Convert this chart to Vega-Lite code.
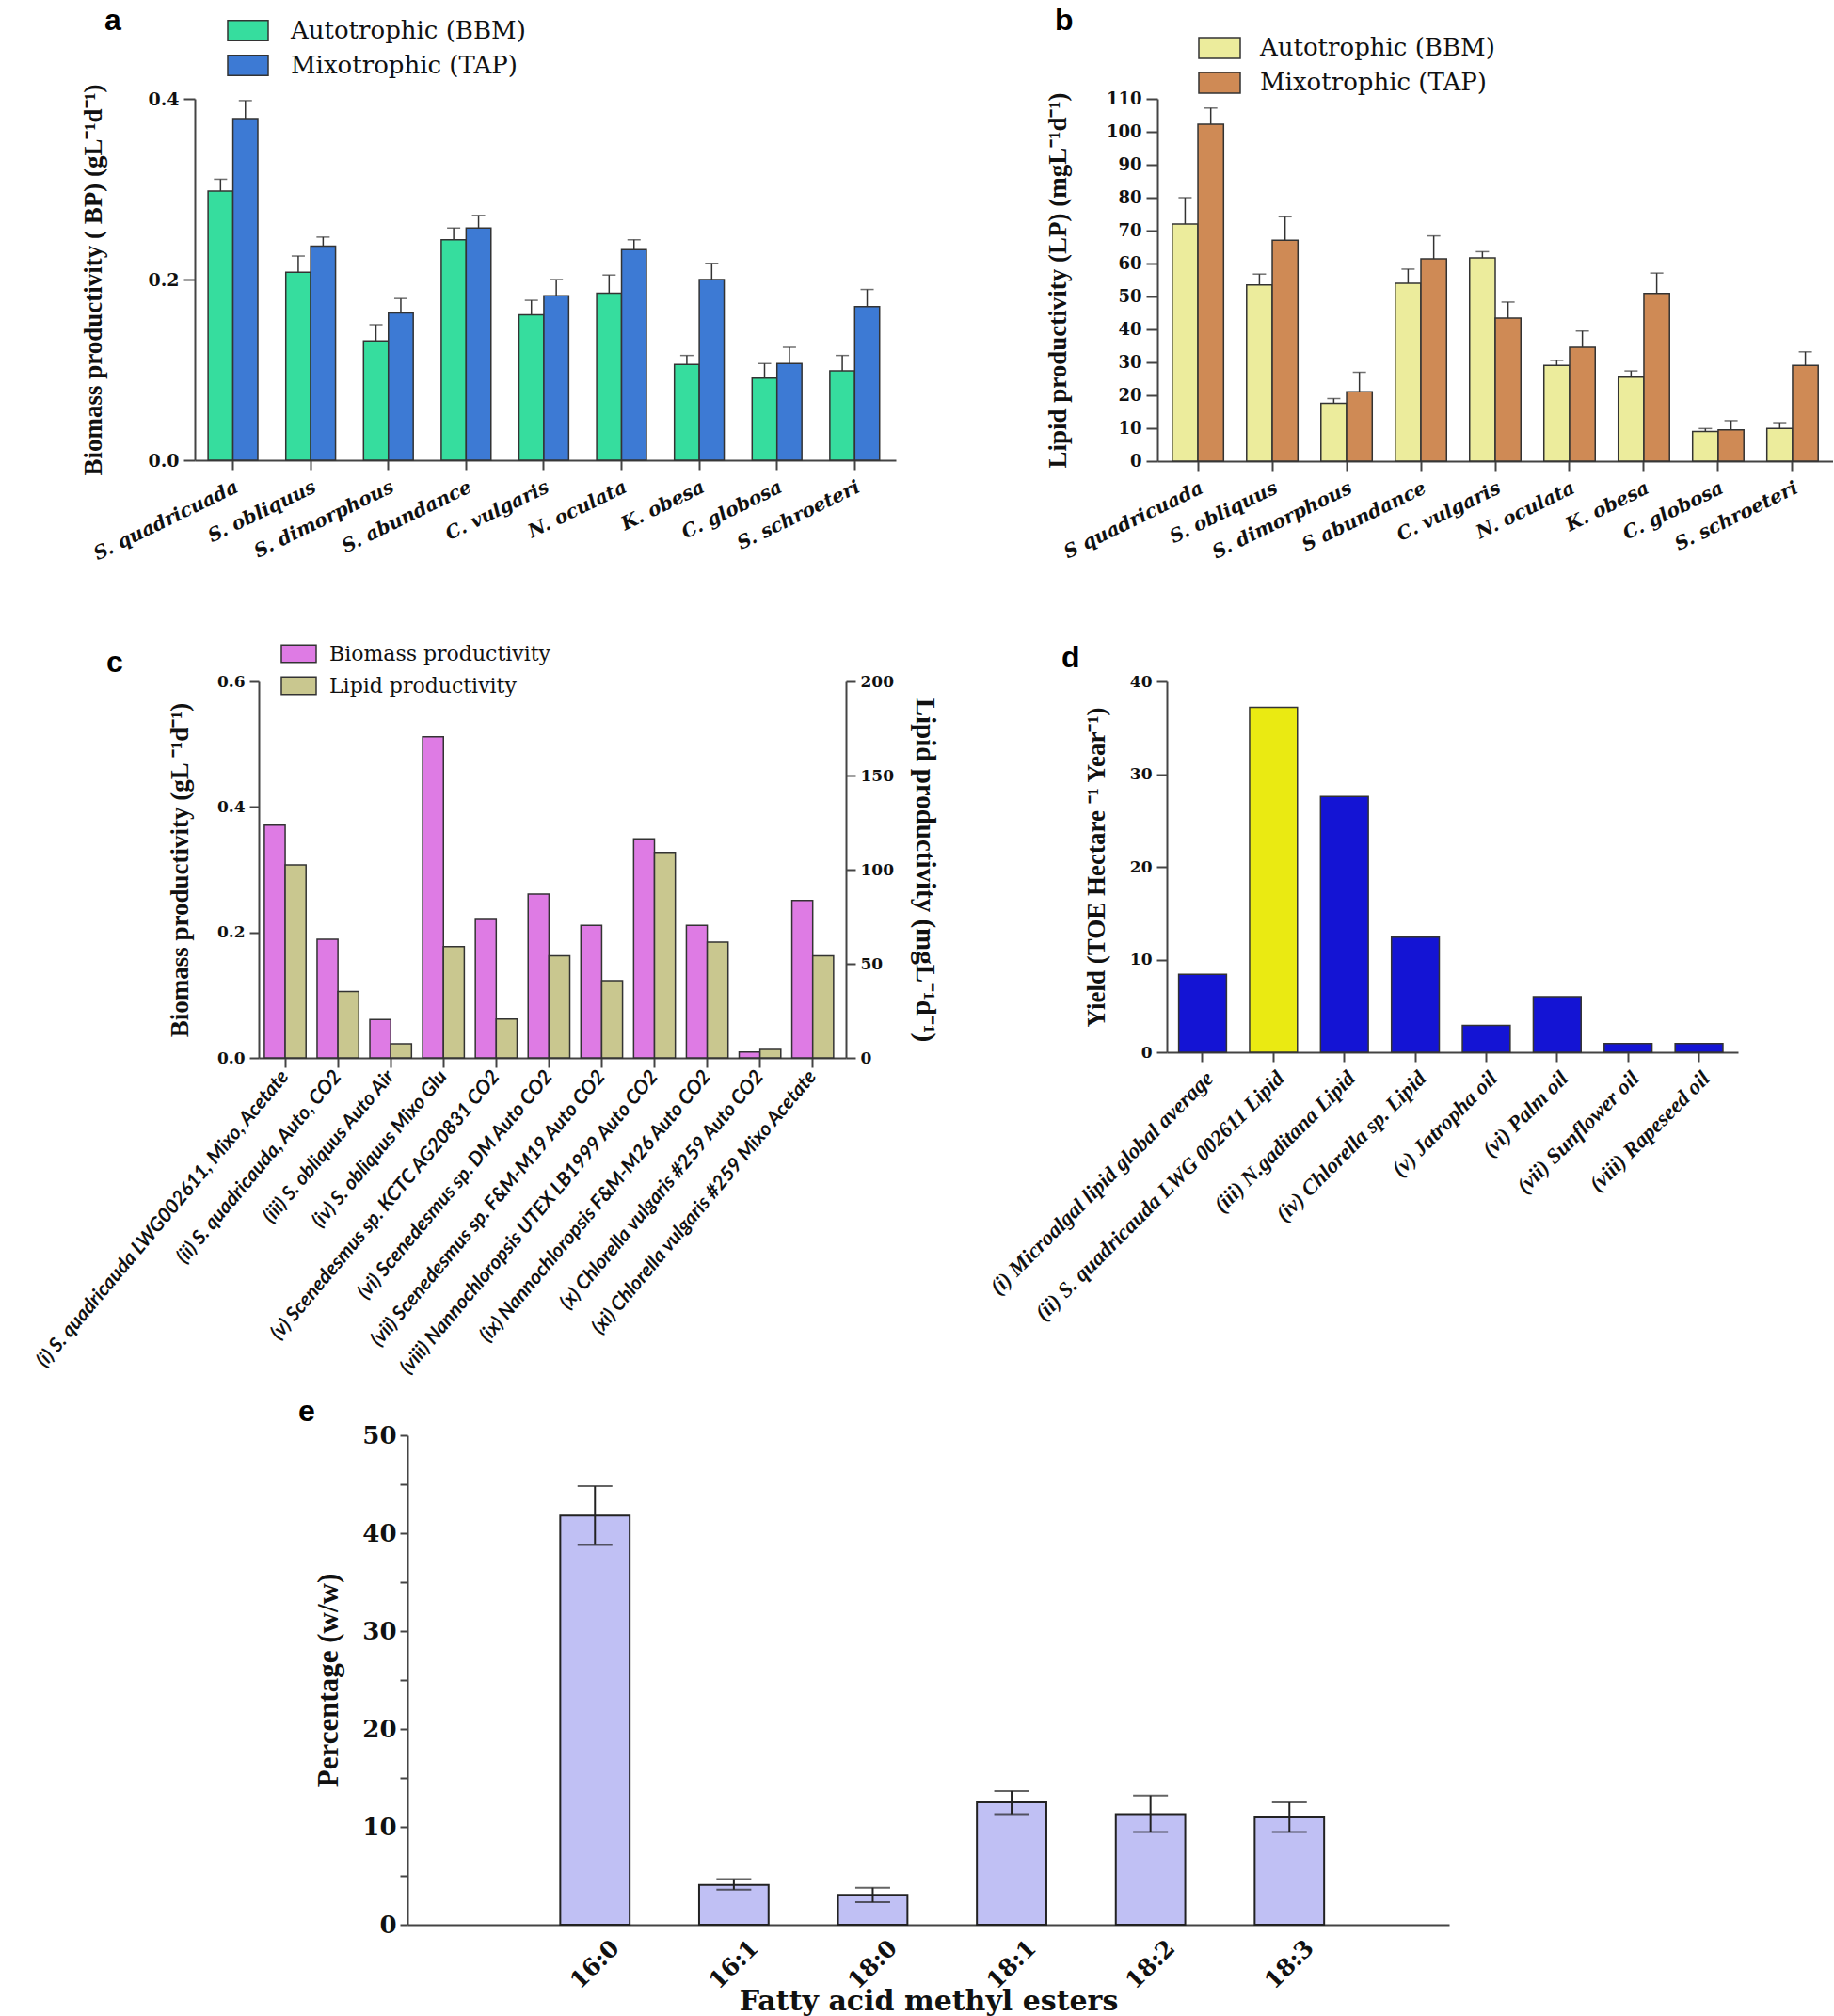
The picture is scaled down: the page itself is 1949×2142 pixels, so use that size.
{
  "$schema": "https://vega.github.io/schema/vega-lite/v6.json",
  "background": "white",
  "padding": {"left": 0, "top": 6, "right": 0, "bottom": 0},
  "config": {
    "view": {"stroke": null},
    "axis": {"domainColor": "#444", "domainWidth": 2, "tickColor": "#444", "tickWidth": 2, "tickSize": 10, "grid": false, "labelColor": "#111", "titleColor": "#111", "labelFont": "DejaVu Serif", "labelFontWeight": "bold", "titleFont": "Liberation Serif", "titleFontWeight": "bold", "labelOverlap": false, "labelPadding": 5}
  },
  "datasets": {
    "a": [
      {"strain": "S. quadricuada", "medium": "Autotrophic (BBM)", "value": 0.298, "upper": 0.311},
      {"strain": "S. quadricuada", "medium": "Mixotrophic (TAP)", "value": 0.378, "upper": 0.398},
      {"strain": "S. obliquus", "medium": "Autotrophic (BBM)", "value": 0.208, "upper": 0.226},
      {"strain": "S. obliquus", "medium": "Mixotrophic (TAP)", "value": 0.237, "upper": 0.247},
      {"strain": "S. dimorphous", "medium": "Autotrophic (BBM)", "value": 0.132, "upper": 0.150},
      {"strain": "S. dimorphous", "medium": "Mixotrophic (TAP)", "value": 0.163, "upper": 0.179},
      {"strain": "S. abundance", "medium": "Autotrophic (BBM)", "value": 0.244, "upper": 0.257},
      {"strain": "S. abundance", "medium": "Mixotrophic (TAP)", "value": 0.257, "upper": 0.271},
      {"strain": "C. vulgaris", "medium": "Autotrophic (BBM)", "value": 0.161, "upper": 0.177},
      {"strain": "C. vulgaris", "medium": "Mixotrophic (TAP)", "value": 0.182, "upper": 0.200},
      {"strain": "N. oculata", "medium": "Autotrophic (BBM)", "value": 0.185, "upper": 0.205},
      {"strain": "N. oculata", "medium": "Mixotrophic (TAP)", "value": 0.233, "upper": 0.244},
      {"strain": "K. obesa", "medium": "Autotrophic (BBM)", "value": 0.106, "upper": 0.116},
      {"strain": "K. obesa", "medium": "Mixotrophic (TAP)", "value": 0.200, "upper": 0.218},
      {"strain": "C. globosa", "medium": "Autotrophic (BBM)", "value": 0.091, "upper": 0.107},
      {"strain": "C. globosa", "medium": "Mixotrophic (TAP)", "value": 0.107, "upper": 0.125},
      {"strain": "S. schroeteri", "medium": "Autotrophic (BBM)", "value": 0.099, "upper": 0.116},
      {"strain": "S. schroeteri", "medium": "Mixotrophic (TAP)", "value": 0.170, "upper": 0.189}
    ],
    "b": [
      {"strain": "S quadricuada", "medium": "Autotrophic (BBM)", "value": 72.0, "upper": 80.0},
      {"strain": "S quadricuada", "medium": "Mixotrophic (TAP)", "value": 102.3, "upper": 107.2},
      {"strain": "S. obliquus", "medium": "Autotrophic (BBM)", "value": 53.5, "upper": 56.8},
      {"strain": "S. obliquus", "medium": "Mixotrophic (TAP)", "value": 67.1, "upper": 74.2},
      {"strain": "S. dimorphous", "medium": "Autotrophic (BBM)", "value": 17.6, "upper": 19.0},
      {"strain": "S. dimorphous", "medium": "Mixotrophic (TAP)", "value": 21.1, "upper": 27.0},
      {"strain": "S abundance", "medium": "Autotrophic (BBM)", "value": 54.0, "upper": 58.3},
      {"strain": "S abundance", "medium": "Mixotrophic (TAP)", "value": 61.4, "upper": 68.4},
      {"strain": "C. vulgaris", "medium": "Autotrophic (BBM)", "value": 61.7, "upper": 63.6},
      {"strain": "C. vulgaris", "medium": "Mixotrophic (TAP)", "value": 43.4, "upper": 48.3},
      {"strain": "N. oculata", "medium": "Autotrophic (BBM)", "value": 29.1, "upper": 30.6},
      {"strain": "N. oculata", "medium": "Mixotrophic (TAP)", "value": 34.6, "upper": 39.5},
      {"strain": "K. obesa", "medium": "Autotrophic (BBM)", "value": 25.5, "upper": 27.4},
      {"strain": "K. obesa", "medium": "Mixotrophic (TAP)", "value": 50.9, "upper": 57.1},
      {"strain": "C. globosa", "medium": "Autotrophic (BBM)", "value": 9.0, "upper": 9.9},
      {"strain": "C. globosa", "medium": "Mixotrophic (TAP)", "value": 9.5, "upper": 12.3},
      {"strain": "S. schroeteri", "medium": "Autotrophic (BBM)", "value": 9.9, "upper": 11.7},
      {"strain": "S. schroeteri", "medium": "Mixotrophic (TAP)", "value": 29.1, "upper": 33.2}
    ],
    "c": [
      {"strain": "(i) S. quadricauda LWG002611, Mixo, Acetate", "series": "Biomass productivity", "value": 0.371},
      {"strain": "(i) S. quadricauda LWG002611, Mixo, Acetate", "series": "Lipid productivity", "value": 102.5},
      {"strain": "(ii) S. quadricauda, Auto, CO2", "series": "Biomass productivity", "value": 0.189},
      {"strain": "(ii) S. quadricauda, Auto, CO2", "series": "Lipid productivity", "value": 35.2},
      {"strain": "(iii) S. obliquus Auto Air", "series": "Biomass productivity", "value": 0.061},
      {"strain": "(iii) S. obliquus Auto Air", "series": "Lipid productivity", "value": 7.5},
      {"strain": "(iv) S. obliquus Mixo Glu", "series": "Biomass productivity", "value": 0.512},
      {"strain": "(iv) S. obliquus Mixo Glu", "series": "Lipid productivity", "value": 59.1},
      {"strain": "(v) Scenedesmus sp. KCTC AG20831 CO2", "series": "Biomass productivity", "value": 0.222},
      {"strain": "(v) Scenedesmus sp. KCTC AG20831 CO2", "series": "Lipid productivity", "value": 20.6},
      {"strain": "(vi) Scenedesmus sp. DM Auto CO2", "series": "Biomass productivity", "value": 0.261},
      {"strain": "(vi) Scenedesmus sp. DM Auto CO2", "series": "Lipid productivity", "value": 54.3},
      {"strain": "(vii) Scenedesmus sp. F&M-M19 Auto CO2", "series": "Biomass productivity", "value": 0.211},
      {"strain": "(vii) Scenedesmus sp. F&M-M19 Auto CO2", "series": "Lipid productivity", "value": 41.0},
      {"strain": "(viii) Nannochloropsis UTEX LB1999 Auto CO2", "series": "Biomass productivity", "value": 0.349},
      {"strain": "(viii) Nannochloropsis UTEX LB1999 Auto CO2", "series": "Lipid productivity", "value": 109.1},
      {"strain": "(ix) Nannochloropsis F&M-M26 Auto CO2", "series": "Biomass productivity", "value": 0.211},
      {"strain": "(ix) Nannochloropsis F&M-M26 Auto CO2", "series": "Lipid productivity", "value": 61.5},
      {"strain": "(x) Chlorella vulgaris #259 Auto CO2", "series": "Biomass productivity", "value": 0.0095},
      {"strain": "(x) Chlorella vulgaris #259 Auto CO2", "series": "Lipid productivity", "value": 4.5},
      {"strain": "(xi) Chlorella vulgaris #259 Mixo Acetate", "series": "Biomass productivity", "value": 0.251},
      {"strain": "(xi) Chlorella vulgaris #259 Mixo Acetate", "series": "Lipid productivity", "value": 54.3}
    ],
    "d": [
      {"source": "(i) Microalgal lipid global average", "kind": "literature", "yield": 8.4},
      {"source": "(ii) S. quadricauda LWG 002611 Lipid", "kind": "this study", "yield": 37.2},
      {"source": "(iii) N.gaditana Lipid", "kind": "literature", "yield": 27.6},
      {"source": "(iv) Chlorella sp. Lipid", "kind": "literature", "yield": 12.4},
      {"source": "(v) Jatropha oil", "kind": "literature", "yield": 2.9},
      {"source": "(vi) Palm oil", "kind": "literature", "yield": 6.0},
      {"source": "(vii) Sunflower oil", "kind": "literature", "yield": 0.93},
      {"source": "(viii) Rapeseed oil", "kind": "literature", "yield": 0.93}
    ],
    "e": [
      {"fame": "16:0", "pct": 41.8, "lower": 38.8, "upper": 44.8},
      {"fame": "16:1", "pct": 4.07, "lower": 3.58, "upper": 4.67},
      {"fame": "18:0", "pct": 3.05, "lower": 2.3, "upper": 3.78},
      {"fame": "18:1", "pct": 12.5, "lower": 11.3, "upper": 13.66},
      {"fame": "18:2", "pct": 11.3, "lower": 9.47, "upper": 13.2},
      {"fame": "18:3", "pct": 10.97, "lower": 9.47, "upper": 12.5}
    ]
  },
  "spacing": 20,
  "resolve": {"scale": {"x": "independent", "y": "independent", "xOffset": "independent", "color": "independent"}, "legend": {"color": "independent"}, "axis": {"x": "independent", "y": "independent"}},
  "vconcat": [
    {
      "spacing": 76,
      "resolve": {"scale": {"x": "independent", "y": "independent", "xOffset": "independent", "color": "independent"}, "legend": {"color": "independent"}, "axis": {"x": "independent", "y": "independent"}},
      "vconcat": [
        {
          "spacing": 0,
          "resolve": {"scale": {"x": "independent", "y": "independent", "xOffset": "independent", "color": "independent"}, "legend": {"color": "independent"}, "axis": {"x": "independent", "y": "independent"}},
          "hconcat": [
            {"width": 85, "height": 1, "data": {"values": [{"k": 0}]}, "mark": {"type": "point", "opacity": 0}, "encoding": {}},
            {
              "spacing": 158,
              "resolve": {"scale": {"x": "independent", "y": "independent", "xOffset": "independent", "color": "independent"}, "legend": {"color": "independent"}, "axis": {"x": "independent", "y": "independent"}},
              "hconcat": [
                {
                  "width": 745, "height": 384,
                  "title": {"text": "a", "anchor": "start", "frame": "group", "dx": -96, "offset": -54, "baseline": "alphabetic", "font": "Liberation Sans", "fontSize": 32, "fontWeight": "bold", "color": "#000"},
                  "data": {"name": "a"},
                  "encoding": {
                    "x": {"field": "strain", "type": "nominal", "sort": null, "scale": {"paddingInner": 0.36, "paddingOuter": 0.19, "align": 0.45},
                      "axis": {"title": null, "labelAngle": -26, "labelFontStyle": "italic", "labelFontSize": 20, "labelLimit": 400, "bandPosition": 0.5, "labelPadding": 8}},
                    "xOffset": {"field": "medium", "type": "nominal", "sort": null, "scale": {"paddingInner": 0, "paddingOuter": 0}}
                  },
                  "layer": [
                    {
                      "mark": {"type": "bar", "stroke": "#333", "strokeWidth": 1.5},
                      "encoding": {
                        "y": {"field": "value", "type": "quantitative", "stack": null, "scale": {"domain": [0, 0.4]},
                          "axis": {"values": [0, 0.2, 0.4], "format": ".1f", "labelOverlap": false, "labelFontSize": 19, "tickSize": 12, "title": "Biomass productivity ( BP) (gL⁻¹d⁻¹)", "titleFontSize": 27, "titlePadding": 43}},
                        "color": {"field": "medium", "type": "nominal", "sort": null,
                          "scale": {"domain": ["Autotrophic (BBM)", "Mixotrophic (TAP)"], "range": ["#36dd9e", "#3d7ad4"]},
                          "legend": {"orient": "none", "legendX": 34, "legendY": -95, "title": null, "direction": "vertical", "padding": 0,
                            "symbolType": "M-1,-0.5H1V0.5H-1Z", "symbolSize": 1849, "symbolStrokeColor": "#333", "symbolStrokeWidth": 1.5, "symbolOpacity": 1,
                            "labelFont": "DejaVu Serif", "labelFontSize": 26, "labelColor": "#111", "labelOffset": 23, "rowPadding": -15, "labelLimit": 500}}
                      }
                    },
                    {
                      "mark": {"type": "rule", "color": "#333", "strokeWidth": 1.5},
                      "encoding": {
                        "y": {"field": "value", "type": "quantitative", "stack": null,
                          "axis": {"values": [0, 0.2, 0.4], "format": ".1f", "labelOverlap": false, "labelFontSize": 19, "tickSize": 12, "title": "Biomass productivity ( BP) (gL⁻¹d⁻¹)", "titleFontSize": 27, "titlePadding": 43}},
                        "y2": {"field": "upper"}}
                    },
                    {
                      "mark": {"type": "tick", "color": "#333", "thickness": 1.5, "size": 14},
                      "encoding": {
                        "y": {"field": "upper", "type": "quantitative", "stack": null,
                          "axis": {"values": [0, 0.2, 0.4], "format": ".1f", "labelOverlap": false, "labelFontSize": 19, "tickSize": 12, "title": "Biomass productivity ( BP) (gL⁻¹d⁻¹)", "titleFontSize": 27, "titlePadding": 43}}}
                    }
                  ]
                },
                {
                  "width": 718, "height": 385,
                  "title": {"text": "b", "anchor": "start", "frame": "group", "dx": -109, "offset": -36, "baseline": "alphabetic", "font": "Liberation Sans", "fontSize": 32, "fontWeight": "bold", "color": "#000"},
                  "data": {"name": "b"},
                  "encoding": {
                    "x": {"field": "strain", "type": "nominal", "sort": null, "scale": {"paddingInner": 0.31, "paddingOuter": 0.2},
                      "axis": {"title": null, "labelAngle": -26, "labelFontStyle": "italic", "labelFontSize": 20, "labelLimit": 400, "bandPosition": 0.5, "labelPadding": 8}},
                    "xOffset": {"field": "medium", "type": "nominal", "sort": null, "scale": {"paddingInner": 0, "paddingOuter": 0}}
                  },
                  "layer": [
                    {
                      "mark": {"type": "bar", "stroke": "#333", "strokeWidth": 1.5},
                      "encoding": {
                        "y": {"field": "value", "type": "quantitative", "stack": null, "scale": {"domain": [0, 110]},
                          "axis": {"values": [0, 10, 20, 30, 40, 50, 60, 70, 80, 90, 100, 110], "labelOverlap": false, "labelFontSize": 18, "tickSize": 12, "title": "Lipid productivity (LP) (mgL⁻¹d⁻¹)", "titleFontSize": 27, "titlePadding": 37}},
                        "color": {"field": "medium", "type": "nominal", "sort": null,
                          "scale": {"domain": ["Autotrophic (BBM)", "Mixotrophic (TAP)"], "range": ["#ecec9c", "#cf8a55"]},
                          "legend": {"orient": "none", "legendX": 43, "legendY": -77, "title": null, "direction": "vertical", "padding": 0,
                            "symbolType": "M-1,-0.5H1V0.5H-1Z", "symbolSize": 1936, "symbolStrokeColor": "#333", "symbolStrokeWidth": 1.5, "symbolOpacity": 1,
                            "labelFont": "DejaVu Serif", "labelFontSize": 26, "labelColor": "#111", "labelOffset": 20, "rowPadding": -16, "labelLimit": 500}}
                      }
                    },
                    {
                      "mark": {"type": "rule", "color": "#333", "strokeWidth": 1.5},
                      "encoding": {
                        "y": {"field": "value", "type": "quantitative", "stack": null,
                          "axis": {"values": [0, 10, 20, 30, 40, 50, 60, 70, 80, 90, 100, 110], "labelOverlap": false, "labelFontSize": 18, "tickSize": 12, "title": "Lipid productivity (LP) (mgL⁻¹d⁻¹)", "titleFontSize": 27, "titlePadding": 37}},
                        "y2": {"field": "upper"}}
                    },
                    {
                      "mark": {"type": "tick", "color": "#333", "thickness": 1.5, "size": 14},
                      "encoding": {
                        "y": {"field": "upper", "type": "quantitative", "stack": null,
                          "axis": {"values": [0, 10, 20, 30, 40, 50, 60, 70, 80, 90, 100, 110], "labelOverlap": false, "labelFontSize": 18, "tickSize": 12, "title": "Lipid productivity (LP) (mgL⁻¹d⁻¹)", "titleFontSize": 27, "titlePadding": 37}}}
                    }
                  ]
                }
              ]
            }
          ]
        },
        {
          "spacing": 0,
          "resolve": {"scale": {"x": "independent", "y": "independent", "xOffset": "independent", "color": "independent"}, "legend": {"color": "independent"}, "axis": {"x": "independent", "y": "independent"}},
          "hconcat": [
            {"width": 34, "height": 1, "data": {"values": [{"k": 0}]}, "mark": {"type": "point", "opacity": 0}, "encoding": {}},
            {
              "spacing": 51,
              "resolve": {"scale": {"x": "independent", "y": "independent", "xOffset": "independent", "color": "independent"}, "legend": {"color": "independent"}, "axis": {"x": "independent", "y": "independent"}},
              "hconcat": [
                {
                  "width": 624, "height": 400,
                  "title": {"text": "c", "anchor": "start", "frame": "group", "dx": -162, "offset": -71, "baseline": "alphabetic", "font": "Liberation Sans", "fontSize": 32, "fontWeight": "bold", "color": "#000"},
                  "data": {"name": "c"},
                  "encoding": {
                    "x": {"field": "strain", "type": "nominal", "sort": null, "scale": {"paddingInner": 0.21, "paddingOuter": 0.17, "align": 0.31},
                      "axis": {"title": null, "labelAngle": -50, "labelFont": "Lato", "labelFontStyle": "italic", "labelFontWeight": "bold", "labelFontSize": 21, "labelLimit": 600, "bandPosition": 0.5, "labelPadding": 6}},
                    "xOffset": {"field": "series", "type": "nominal", "sort": null, "scale": {"domain": ["Biomass productivity", "Lipid productivity"], "paddingInner": 0, "paddingOuter": 0}}
                  },
                  "layer": [
                    {
                      "transform": [{"filter": "datum.series === 'Biomass productivity'"}],
                      "mark": {"type": "bar", "stroke": "#333", "strokeWidth": 1.5},
                      "encoding": {
                        "y": {"field": "value", "type": "quantitative", "stack": null, "scale": {"domain": [0, 0.6]},
                          "axis": {"values": [0, 0.2, 0.4, 0.6], "format": ".1f", "labelOverlap": false, "labelFontSize": 17, "title": "Biomass productivity (gL  ⁻¹d⁻¹)", "titleFontSize": 27, "titlePadding": 25}},
                        "color": {"field": "series", "type": "nominal",
                          "scale": {"domain": ["Biomass productivity", "Lipid productivity"], "range": ["#de7be4", "#c9c78f"]},
                          "legend": {"orient": "none", "legendX": 23, "legendY": -49, "title": null, "direction": "vertical", "padding": 0,
                            "symbolType": "M-1,-0.5H1V0.5H-1Z", "symbolSize": 1369, "symbolStrokeColor": "#333", "symbolStrokeWidth": 1.5, "symbolOpacity": 1,
                            "labelFont": "DejaVu Serif", "labelFontSize": 22, "labelColor": "#111", "labelOffset": 13, "rowPadding": 2, "labelLimit": 500}}
                      }
                    },
                    {
                      "transform": [{"filter": "datum.series === 'Lipid productivity'"}],
                      "mark": {"type": "bar", "stroke": "#333", "strokeWidth": 1.5},
                      "encoding": {
                        "y": {"field": "value", "type": "quantitative", "stack": null, "scale": {"domain": [0, 200]},
                          "axis": {"orient": "right", "values": [0, 50, 100, 150, 200], "labelOverlap": false, "labelFontSize": 17, "title": "Lipid productivity (mgL⁻¹d⁻¹)", "titleFontSize": 29, "titlePadding": 18}},
                        "color": {"field": "series", "type": "nominal"}
                      }
                    }
                  ],
                  "resolve": {"scale": {"y": "independent"}}
                },
                {
                  "width": 607, "height": 394,
                  "title": {"text": "d", "anchor": "start", "frame": "group", "dx": -112, "offset": -26, "baseline": "alphabetic", "font": "Liberation Sans", "fontSize": 32, "fontWeight": "bold", "color": "#000"},
                  "data": {"name": "d"},
                  "mark": {"type": "bar", "stroke": "#333", "strokeWidth": 1.5},
                  "encoding": {
                    "x": {"field": "source", "type": "nominal", "sort": null, "scale": {"paddingInner": 0.326, "paddingOuter": 0.19, "align": 0.44},
                      "axis": {"title": null, "labelAngle": -45, "labelFont": "Liberation Serif", "labelFontStyle": "italic", "labelFontWeight": "bold", "labelFontSize": 23, "labelLimit": 600, "bandPosition": 0.5, "labelPadding": 6}},
                    "y": {"field": "yield", "type": "quantitative", "scale": {"domain": [0, 40]},
                      "axis": {"values": [0, 10, 20, 30, 40], "labelOverlap": false, "labelFontSize": 17, "tickSize": 11, "title": "Yield (TOE Hectare ⁻¹ Year⁻¹)", "titleFontSize": 27, "titlePadding": 21}},
                    "color": {"field": "kind", "type": "nominal", "scale": {"domain": ["this study", "literature"], "range": ["#eaea12", "#1414d4"]}, "legend": null}
                  }
                }
              ]
            }
          ]
        }
      ]
    },
    {
      "spacing": 0,
      "resolve": {"scale": {"x": "independent", "y": "independent", "color": "independent"}, "axis": {"x": "independent", "y": "independent"}},
      "hconcat": [
        {"width": 317, "height": 1, "data": {"values": [{"k": 0}]}, "mark": {"type": "point", "opacity": 0}, "encoding": {}},
        {
          "width": 1107, "height": 520,
          "title": {"text": "e", "anchor": "start", "frame": "group", "dx": -116, "offset": -30, "baseline": "alphabetic", "font": "Liberation Sans", "fontSize": 32, "fontWeight": "bold", "color": "#000"},
          "data": {"name": "e"},
          "encoding": {
            "x": {"field": "fame", "type": "nominal", "sort": null, "scale": {"paddingInner": 0.5, "paddingOuter": 1.04, "align": 0.55},
              "axis": {"title": "Fatty acid methyl esters", "titleFont": "DejaVu Serif", "titleFontSize": 30, "titlePadding": -6, "ticks": false, "tickSize": 0, "labelAngle": -45, "labelAlign": "center", "labelBaseline": "middle", "labelFontSize": 25, "labelPadding": 42, "bandPosition": 0.5}}
          },
          "layer": [
            {
              "mark": {"type": "bar", "fill": "#c0c0f4", "stroke": "#222", "strokeWidth": 2},
              "encoding": {
                "y": {"field": "pct", "type": "quantitative", "stack": null, "scale": {"domain": [0, 50]},
                  "axis": {"values": [0, 5, 10, 15, 20, 25, 30, 35, 40, 45, 50], "labelOverlap": false, "labelExpr": "datum.value % 10 === 0 ? datum.label : ''", "labelFontSize": 26, "tickSize": 8, "labelPadding": 4, "title": "Percentage (w/w)", "titleFontSize": 31, "titlePadding": 19}}
              }
            },
            {
              "mark": {"type": "rule", "color": "#222", "strokeWidth": 2},
              "encoding": {
                "y": {"field": "lower", "type": "quantitative", "stack": null,
                  "axis": {"values": [0, 5, 10, 15, 20, 25, 30, 35, 40, 45, 50], "labelOverlap": false, "labelExpr": "datum.value % 10 === 0 ? datum.label : ''", "labelFontSize": 26, "tickSize": 8, "labelPadding": 4, "title": "Percentage (w/w)", "titleFontSize": 31, "titlePadding": 19}},
                "y2": {"field": "upper"}}
            },
            {
              "mark": {"type": "tick", "color": "#222", "thickness": 2, "size": 37},
              "encoding": {
                "y": {"field": "upper", "type": "quantitative", "stack": null,
                  "axis": {"values": [0, 5, 10, 15, 20, 25, 30, 35, 40, 45, 50], "labelOverlap": false, "labelExpr": "datum.value % 10 === 0 ? datum.label : ''", "labelFontSize": 26, "tickSize": 8, "labelPadding": 4, "title": "Percentage (w/w)", "titleFontSize": 31, "titlePadding": 19}}}
            },
            {
              "mark": {"type": "tick", "color": "#222", "thickness": 2, "size": 37},
              "encoding": {
                "y": {"field": "lower", "type": "quantitative", "stack": null,
                  "axis": {"values": [0, 5, 10, 15, 20, 25, 30, 35, 40, 45, 50], "labelOverlap": false, "labelExpr": "datum.value % 10 === 0 ? datum.label : ''", "labelFontSize": 26, "tickSize": 8, "labelPadding": 4, "title": "Percentage (w/w)", "titleFontSize": 31, "titlePadding": 19}}}
            }
          ]
        }
      ]
    }
  ]
}
